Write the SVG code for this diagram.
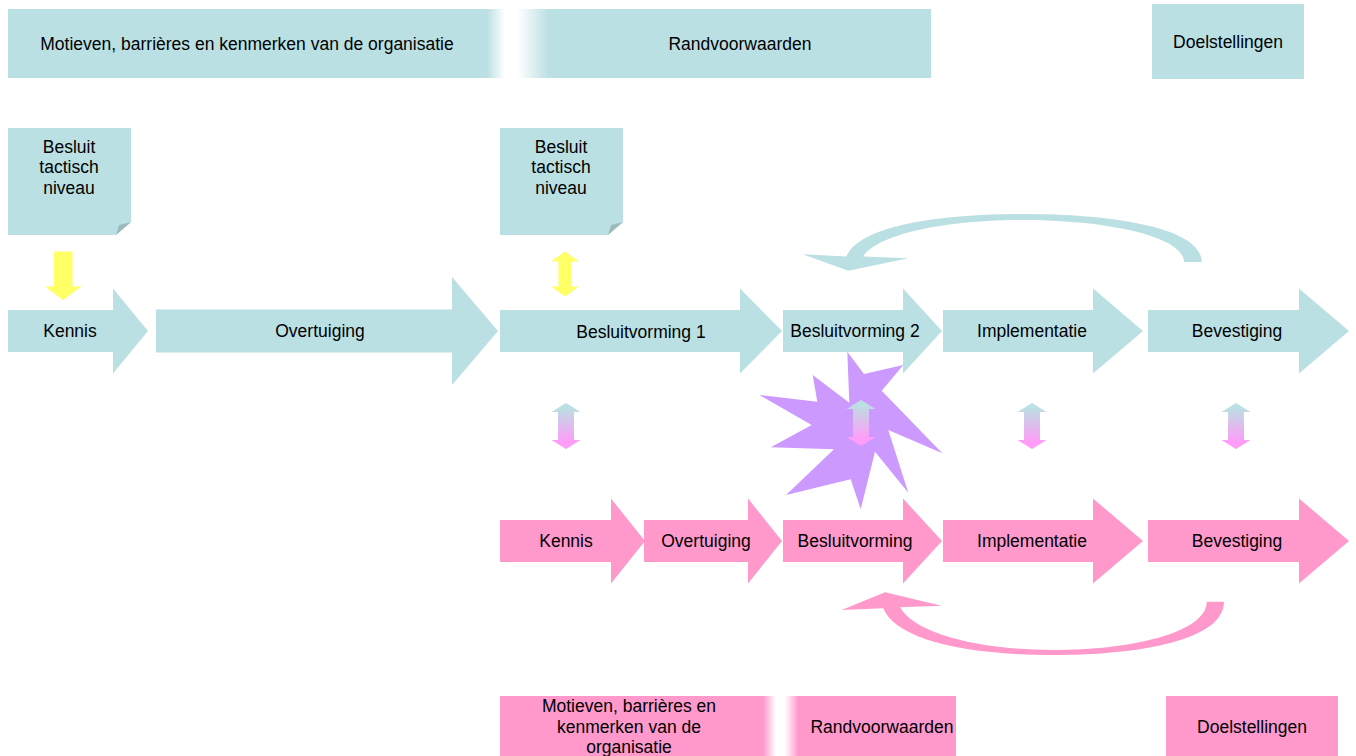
<svg xmlns="http://www.w3.org/2000/svg" width="1356" height="756" viewBox="0 0 1356 756">
  <defs>
    <linearGradient id="barTeal" gradientUnits="userSpaceOnUse" x1="8" y1="0" x2="931" y2="0">
      <stop offset="0" stop-color="#BBE0E3"/>
      <stop offset="0.519" stop-color="#BBE0E3"/>
      <stop offset="0.538" stop-color="#FFFFFF"/>
      <stop offset="0.552" stop-color="#FFFFFF"/>
      <stop offset="0.586" stop-color="#BBE0E3"/>
      <stop offset="1" stop-color="#BBE0E3"/>
    </linearGradient>
    <linearGradient id="barPink" gradientUnits="userSpaceOnUse" x1="500" y1="0" x2="956" y2="0">
      <stop offset="0" stop-color="#FF99CC"/>
      <stop offset="0.577" stop-color="#FF99CC"/>
      <stop offset="0.605" stop-color="#FFFFFF"/>
      <stop offset="0.625" stop-color="#FFFFFF"/>
      <stop offset="0.654" stop-color="#FF99CC"/>
      <stop offset="1" stop-color="#FF99CC"/>
    </linearGradient>
    <linearGradient id="tealToPink" x1="0" y1="0" x2="0" y2="1">
      <stop offset="0.1" stop-color="#BBE0E3"/>
      <stop offset="0.85" stop-color="#FF9CF8"/>
    </linearGradient>
    <!-- vertical double arrow, centred on x=0, 46 px tall -->
    <path id="dbl" d="M0,0 L14.5,9 L8,9 L8,37 L14.5,37 L0,46 L-14.5,37 L-8,37 L-8,9 L-14.5,9 Z"/>
  </defs>
  <style>
    .teal { fill: #BBE0E3; }
    .pink { fill: #FF99CC; }
    .fold { fill: #9DB9BC; }
    .yellow { fill: #FFFF66; }
    .star { fill: #CC99FF; }
    .grad { fill: url(#tealToPink); }
    text { font-family: "Liberation Sans", Arial, sans-serif; font-size: 17.5px; fill: #000; text-anchor: middle; dominant-baseline: central; }
  </style>

  <rect width="1356" height="756" fill="#FFFFFF"/>

  <!-- upper context bar -->
  <g id="context-top">
    <rect x="8" y="9" width="923" height="69" fill="url(#barTeal)"/>
    <text x="247" y="44">Motieven, barrières en kenmerken van de organisatie</text>
    <text x="740" y="44">Randvoorwaarden</text>
  </g>
  <g id="goals-top">
    <rect class="teal" x="1152" y="4" width="152" height="75"/>
    <text x="1228" y="42">Doelstellingen</text>
  </g>

  <!-- decision notes with folded corner -->
  <g id="note-1">
    <path class="teal" d="M8,128 H131 V222 L116,235 H8 Z"/>
    <path class="fold" d="M131,222 L116,235 L119,225 Z"/>
    <text x="69" y="147">Besluit</text>
    <text x="69" y="167">tactisch</text>
    <text x="69" y="188">niveau</text>
  </g>
  <g id="note-2">
    <path class="teal" d="M500,128 H623 V222 L608,235 H500 Z"/>
    <path class="fold" d="M623,222 L608,235 L611,225 Z"/>
    <text x="561" y="147">Besluit</text>
    <text x="561" y="167">tactisch</text>
    <text x="561" y="188">niveau</text>
  </g>

  <!-- purple burst behind the interaction arrow -->
  <g id="burst">
    <path class="star" d="M847.3,351.7 L864,374 L903.3,365 L881.7,390.7 L942.3,453.3 L888.3,430 L908.3,492.7 L875,451.7 L860.7,509.3 L850.7,479.3 L786,495 L834,449.3 L770.7,447.3 L811.7,425 L759.3,395 L817.3,401.7 L812.7,375 L849.3,402.7 Z"/>
  </g>

  <!-- organisational process (teal row) -->
  <g id="org-kennis">
    <path class="teal" d="M8,310 H113 V288.5 L148,331 L113,373.5 V352 H8 Z"/>
    <text x="70" y="331">Kennis</text>
  </g>
  <g id="org-overtuiging">
    <path class="teal" d="M156,309.5 H452 V277 L498,331 L452,385 V352.5 H156 Z"/>
    <text x="320" y="331">Overtuiging</text>
  </g>
  <g id="org-besluitvorming-1">
    <path class="teal" d="M500,310 H740 V288.5 L782,331 L740,373.5 V352 H500 Z"/>
    <text x="641" y="332">Besluitvorming 1</text>
  </g>
  <g id="org-besluitvorming-2">
    <path class="teal" d="M783,310 H903 V288.5 L942,331 L903,373.5 V352 H783 Z"/>
    <text x="855" y="331">Besluitvorming 2</text>
  </g>
  <g id="org-implementatie">
    <path class="teal" d="M943,310 H1093 V288.5 L1143,331 L1093,373.5 V352 H943 Z"/>
    <text x="1032" y="331">Implementatie</text>
  </g>
  <g id="org-bevestiging">
    <path class="teal" d="M1148,310 H1299 V288.5 L1349,331 L1299,373.5 V352 H1148 Z"/>
    <text x="1237" y="331">Bevestiging</text>
  </g>

  <!-- individual process (pink row) -->
  <g id="ind-kennis">
    <path class="pink" d="M500,520 H611 V498.5 L645,541 L611,583.5 V562 H500 Z"/>
    <text x="566" y="541">Kennis</text>
  </g>
  <g id="ind-overtuiging">
    <path class="pink" d="M644,520 H748 V498.5 L782,541 L748,583.5 V562 H644 Z"/>
    <text x="706" y="541">Overtuiging</text>
  </g>
  <g id="ind-besluitvorming">
    <path class="pink" d="M783,520 H903 V498.5 L942,541 L903,583.5 V562 H783 Z"/>
    <text x="855" y="541">Besluitvorming</text>
  </g>
  <g id="ind-implementatie">
    <path class="pink" d="M943,520 H1093 V498.5 L1143,541 L1093,583.5 V562 H943 Z"/>
    <text x="1032" y="541">Implementatie</text>
  </g>
  <g id="ind-bevestiging">
    <path class="pink" d="M1148,520 H1299 V498.5 L1349,541 L1299,583.5 V562 H1148 Z"/>
    <text x="1237" y="541">Bevestiging</text>
  </g>

  <!-- lower context bar -->
  <g id="context-bottom">
    <rect x="500" y="696" width="456" height="60" fill="url(#barPink)"/>
    <text x="629" y="706">Motieven, barrières en</text>
    <text x="629" y="727">kenmerken van de</text>
    <text x="629" y="747">organisatie</text>
    <text x="882" y="727">Randvoorwaarden</text>
  </g>
  <g id="goals-bottom">
    <rect class="pink" x="1166" y="696" width="172" height="60"/>
    <text x="1252" y="727">Doelstellingen</text>
  </g>

  <!-- connectors -->
  <g id="connectors">
    <!-- decision at tactical level feeds knowledge -->
    <path class="yellow" d="M54,251.5 H72.5 V286.5 H81.5 L63,300 L45,286.5 H54 Z"/>
    <!-- two-way link between tactical decision and decision phase 1 -->
    <path class="yellow" d="M565,251.5 L579,261.5 L571.5,261.5 L571.5,286.5 L579,286.5 L565,296.5 L551,286.5 L558.5,286.5 L558.5,261.5 L551,261.5 Z"/>
    <!-- interaction between the two processes -->
    <use href="#dbl" class="grad" x="566" y="403"/>
    <use href="#dbl" class="grad" x="861" y="400"/>
    <use href="#dbl" class="grad" x="1032" y="403"/>
    <use href="#dbl" class="grad" x="1236" y="403"/>
    <!-- organisational feedback loop -->
    <path class="teal" d="M1201.7,262 C1201.7,228 1115,214 1023,214 C930,214 858,228 846.5,256.5 L802.7,254.3 L848.3,270.7 L908.3,258.3 L863,256.5 C878,234 945,220 1023,220 C1105,220 1184,236 1184,262 Z"/>
    <!-- individual feedback loop -->
    <path class="pink" d="M1224,601.7 C1224,640 1140,655 1053,655 C960,655 895,638 883.3,608.3 L841.7,610 L885,592.3 L941.7,605.7 L900,607.3 C915,634 980,650 1053,650 C1130,650 1206.7,633 1206.7,601.7 Z"/>
  </g>
</svg>
